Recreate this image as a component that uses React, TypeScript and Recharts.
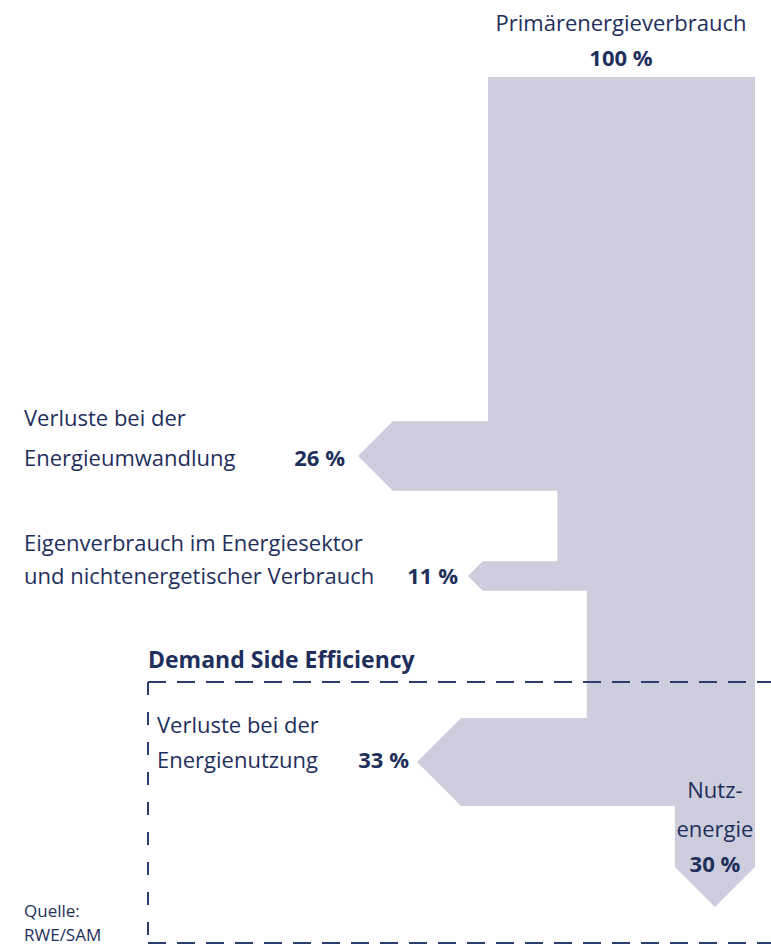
import React from "react";
import { ComposedChart, Area, XAxis, YAxis, ReferenceLine } from "recharts";

// flows, in % of primary energy
const primaryLabel = "Primärenergieverbrauch";
const primaryValue = 100;
const lossLabels = [
  ["Verluste bei der", "Energieumwandlung"],
  ["Eigenverbrauch im Energiesektor", "und nichtenergetischer Verbrauch"],
  ["Verluste bei der", "Energienutzung"],
];
const lossValues = [26, 11, 33];
const usefulLabel = ["Nutz-", "energie"];
const usefulValue = 30;
const boxTitle = "Demand Side Efficiency";
const sourceLines = ["Quelle:", "RWE/SAM"];

// layout: both axes use the same unit (1 % of primary energy)
const W = 771;
const H = 946;
const PX = 2.67; // px per unit
const TRUNK_LEFT = 488;
const xMin = -TRUNK_LEFT / PX;
const xMax = xMin + W / PX;
const yMax = H / PX;
const TRUNK_TOP = 77 / PX;
const branchMid = [456, 576, 762].map((p) => p / PX);
const branchTip = [358, 468, 417].map((p) => (p - TRUNK_LEFT) / PX);
const STEM_END = 867 / PX;

// dashed "demand side" box
const boxLeft = (148 - TRUNK_LEFT) / PX;
const boxTop = 682 / PX;
const boxBottom = 943 / PX;

const FILL = "#cdcdde";
const NAVY = "#1f2f5c";
const DASH = "#2c3e6b";
const FONT = "'Open Sans', sans-serif";

const toPx = (u: number) => TRUNK_LEFT + u * PX;

function buildRows() {
  const rows: any[] = [];
  // arrows leaving to the left
  let left = 0;
  lossValues.forEach((v, i) => {
    const key = "b" + i;
    const mid = branchMid[i];
    const band = [mid - v / 2, mid + v / 2];
    rows.push({ x: branchTip[i], [key]: [mid, mid] });
    rows.push({ x: branchTip[i] + v / 2, [key]: band });
    rows.push({ x: left + 1, [key]: band });
    left += v;
  });
  // main trunk, narrowing after each branch
  left = 0;
  lossValues.forEach((v, i) => {
    const bottom = branchMid[i] + v / 2;
    rows.push({ x: left, trunk: [TRUNK_TOP, bottom] });
    left += v;
    rows.push({ x: left, trunk: [TRUNK_TOP, bottom] });
  });
  rows.push({ x: left, trunk: [TRUNK_TOP, STEM_END] });
  rows.push({ x: left + usefulValue / 2, trunk: [TRUNK_TOP, STEM_END + usefulValue / 2] });
  rows.push({ x: left + usefulValue, trunk: [TRUNK_TOP, STEM_END] });
  return rows;
}

const series = ["trunk", "b0", "b1", "b2"];

export default function App() {
  const rows = buildRows();
  const stemCenter = toPx(primaryValue - usefulValue / 2);
  const txt = { fontFamily: FONT, fontSize: 22, fill: NAVY };
  const bold = { ...txt, fontWeight: 700 };

  return (
    <div style={{ position: "absolute", left: 0, top: 0, width: W, height: H, background: "#fff" }}>
      <ComposedChart width={W} height={H} data={rows} margin={{ top: 0, right: 0, bottom: 0, left: 0 }}>
        <XAxis type="number" dataKey="x" domain={[xMin, xMax]} allowDataOverflow hide />
        <YAxis type="number" domain={[0, yMax]} reversed allowDataOverflow hide />
        {series.map((k) => (
          <Area
            key={k}
            dataKey={k}
            type="linear"
            fill={FILL}
            fillOpacity={1}
            stroke="none"
            connectNulls
            dot={false}
            activeDot={false}
            isAnimationActive={false}
          />
        ))}
        <ReferenceLine
          segment={[{ x: boxLeft, y: boxTop }, { x: xMax + 5, y: boxTop }]}
          ifOverflow="visible"
          stroke={DASH}
          strokeWidth={2}
          strokeDasharray="18 11"
        />
        <ReferenceLine
          segment={[{ x: boxLeft, y: boxBottom }, { x: xMax + 5, y: boxBottom }]}
          ifOverflow="visible"
          stroke={DASH}
          strokeWidth={2}
          strokeDasharray="18 11"
        />
        <ReferenceLine
          segment={[{ x: boxLeft, y: boxTop }, { x: boxLeft, y: boxBottom }]}
          ifOverflow="visible"
          stroke={DASH}
          strokeWidth={2}
          strokeDasharray="13 17"
        />
      </ComposedChart>
      <svg
        width={W}
        height={H}
        style={{ position: "absolute", left: 0, top: 0, pointerEvents: "none" }}
      >
        <text x={621} y={31} textAnchor="middle" {...txt}>{primaryLabel}</text>
        <text x={621} y={66} textAnchor="middle" {...bold}>{primaryValue} %</text>

        <text x={24} y={426} {...txt}>{lossLabels[0][0]}</text>
        <text x={24} y={466} {...txt}>{lossLabels[0][1]}</text>
        <text x={345} y={466} textAnchor="end" {...bold}>{lossValues[0]} %</text>

        <text x={24} y={551} {...txt}>{lossLabels[1][0]}</text>
        <text x={24} y={584} {...txt}>{lossLabels[1][1]}</text>
        <text x={458} y={584} textAnchor="end" {...bold}>{lossValues[1]} %</text>

        <text x={148} y={668} {...bold} fontSize={23}>{boxTitle}</text>
        <text x={157} y={733} {...txt}>{lossLabels[2][0]}</text>
        <text x={157} y={768} {...txt}>{lossLabels[2][1]}</text>
        <text x={409} y={768} textAnchor="end" {...bold}>{lossValues[2]} %</text>

        <text x={stemCenter} y={798} textAnchor="middle" {...txt}>{usefulLabel[0]}</text>
        <text x={stemCenter} y={837} textAnchor="middle" {...txt}>{usefulLabel[1]}</text>
        <text x={stemCenter} y={872} textAnchor="middle" {...bold}>{usefulValue} %</text>

        <text x={24} y={917} {...txt} fontSize={17}>{sourceLines[0]}</text>
        <text x={24} y={941} {...txt} fontSize={17}>{sourceLines[1]}</text>
      </svg>
    </div>
  );
}
